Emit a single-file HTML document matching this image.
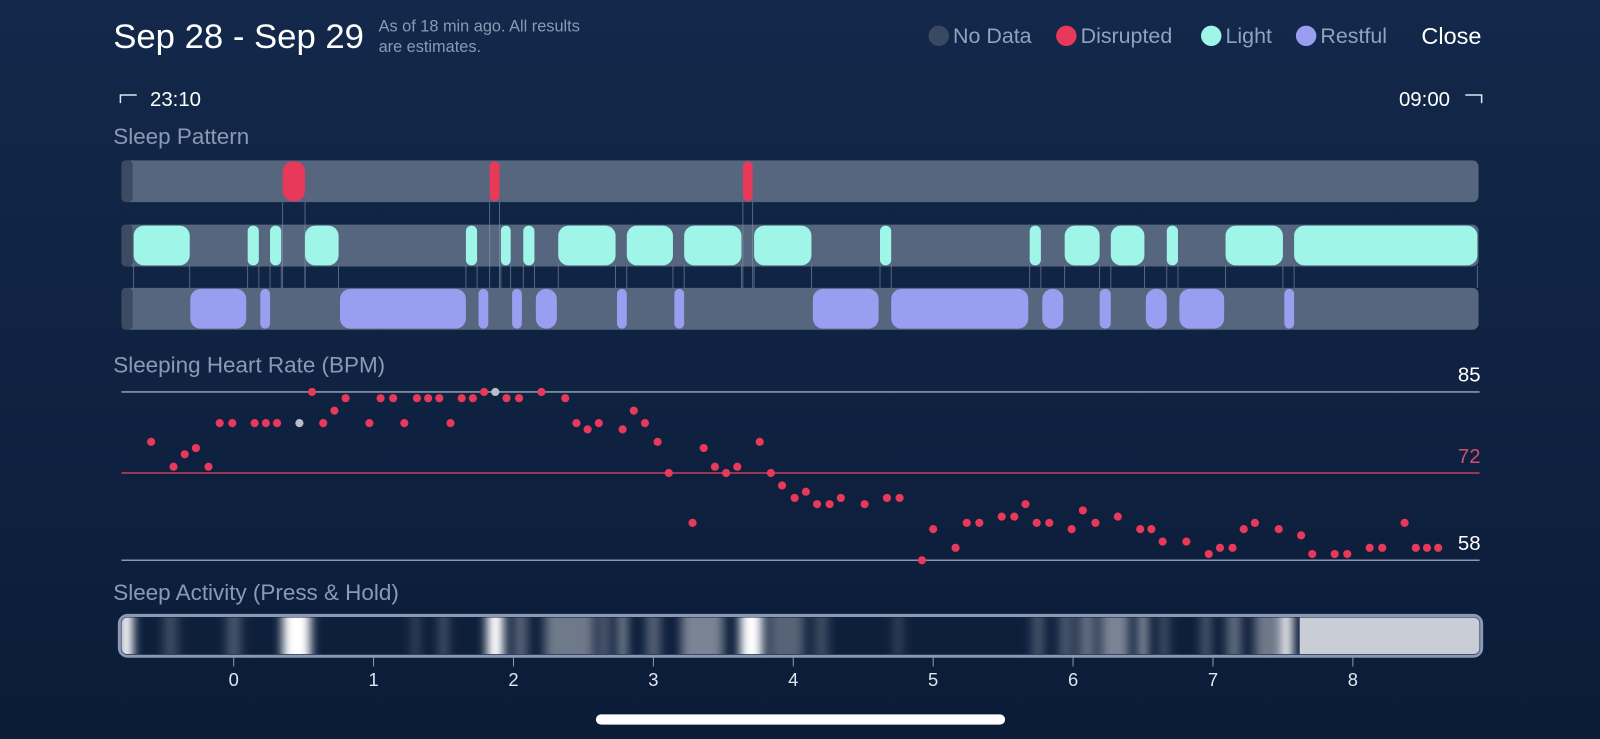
<!DOCTYPE html>
<html><head><meta charset="utf-8"><style>
html,body{margin:0;padding:0;background:#0e2040;}
svg{display:block;font-family:"Liberation Sans",sans-serif;}
</style></head><body>
<svg id="c" width="1600" height="739" viewBox="0 0 1568 724" xmlns="http://www.w3.org/2000/svg">
<defs>
<linearGradient id="bg" x1="0" y1="0" x2="0" y2="1"><stop offset="0" stop-color="#13284a"/><stop offset="1" stop-color="#0b1c38"/></linearGradient>
<filter id="blur" x="-50%" y="0" width="200%" height="100%"><feGaussianBlur stdDeviation="5 0"/></filter>
<clipPath id="actClip"><rect x="119" y="605" width="1331" height="36" rx="6"/></clipPath>
</defs>
<rect width="1568" height="724" fill="url(#bg)"/>
<text x="111" y="47" font-size="34" fill="#fff">Sep 28 - Sep 29</text>
<text x="371" y="31" font-size="16" fill="#8a9ab5">As of 18 min ago. All results</text>
<text x="371" y="51" font-size="16" fill="#8a9ab5">are estimates.</text>
<g font-size="21" fill="#8fa2bf">
<circle cx="920" cy="35" r="10" fill="#3a4962"/><text x="934" y="42">No Data</text>
<circle cx="1045" cy="35" r="10" fill="#e8395a"/><text x="1059" y="42">Disrupted</text>
<circle cx="1187" cy="35" r="10" fill="#9ff5e8"/><text x="1201" y="42">Light</text>
<circle cx="1280" cy="35" r="10" fill="#9a9ef0"/><text x="1294" y="42">Restful</text>
</g>
<text x="1393" y="43" font-size="23" fill="#fff">Close</text>
<path d="M118 101 V93 H134" stroke="#dfe6f0" stroke-width="1.5" fill="none"/>
<text x="147" y="104" font-size="20" fill="#fff">23:10</text>
<path d="M1436 93 H1452 V101" stroke="#dfe6f0" stroke-width="1.5" fill="none"/>
<text x="1421" y="104" font-size="20" fill="#fff" text-anchor="end">09:00</text>
<text x="111" y="141" font-size="22" fill="#8a9ab5">Sleep Pattern</text>
<g id="pattern"></g>
<text x="111" y="365" font-size="22" fill="#8a9ab5">Sleeping Heart Rate (BPM)</text>
<g id="hr"></g>
<text x="111" y="588" font-size="22" fill="#8a9ab5">Sleep Activity (Press &amp; Hold)</text>
<g id="act"></g>
<g id="axis"></g>
<rect x="584" y="700" width="401" height="10" rx="5" fill="#fff"/>
</svg>
<script>
const disruptedStart=[0.35,1.83,3.64];
const disruptedEnd=[0.51,1.90,3.71];
const lightStart=[-0.715,0.10,0.26,0.51,1.66,1.91,2.07,2.32,2.81,3.22,3.72,4.62,5.69,5.94,6.27,6.67,7.09,7.58];
const lightEnd=[-0.314,0.18,0.34,0.75,1.74,1.98,2.15,2.73,3.14,3.63,4.13,4.70,5.77,6.19,6.51,6.75,7.50,8.89];
const restStart=[-0.31,0.19,0.76,1.75,1.99,2.16,2.74,3.15,4.14,4.70,5.78,6.19,6.52,6.76,7.51];
const restEnd=[0.09,0.26,1.66,1.82,2.06,2.31,2.81,3.22,4.61,5.68,5.93,6.27,6.67,7.08,7.58];
const hrHours=[-0.59,-0.43,-0.35,-0.27,-0.18,-0.10,-0.01,0.15,0.23,0.31,0.47,0.56,0.64,0.72,0.80,0.97,1.05,1.14,1.22,1.31,1.39,1.47,1.55,1.63,1.71,1.79,1.87,1.95,2.04,2.20,2.37,2.45,2.53,2.61,2.78,2.86,2.94,3.03,3.11,3.28,3.36,3.44,3.52,3.60,3.76,3.84,3.92,4.01,4.09,4.17,4.26,4.34,4.51,4.67,4.76,4.92,5.00,5.16,5.24,5.33,5.49,5.58,5.66,5.74,5.83,5.99,6.07,6.16,6.32,6.48,6.56,6.64,6.81,6.97,7.05,7.14,7.22,7.30,7.47,7.63,7.71,7.87,7.96,8.12,8.21,8.37,8.45,8.53,8.61];
const hrBpm=[77,73,75,76,73,80,80,80,80,80,80,85,80,82,84,80,84,84,80,84,84,84,80,84,84,85,85,84,84,85,84,80,79,80,79,82,80,77,72,64,76,73,72,73,77,72,70,68,69,67,67,68,67,68,68,58,63,60,64,64,65,65,67,64,64,63,66,64,65,63,63,61,61,59,60,60,63,64,63,62,59,59,59,60,60,64,60,60,60];
const hrNoData=[10,26];
const hrRefLines=[85,72,58];
const actHours=[-0.77,-0.45,0.0,0.45,1.3,1.5,1.87,2.05,2.4,2.65,2.78,3.0,3.35,3.7,3.95,4.2,4.75,5.75,5.95,6.1,6.3,6.5,6.65,6.95,7.15,7.4,7.53];
const actLevel=[1.0,0.2,0.25,1.0,0.2,0.25,1.0,0.3,0.4,0.35,0.5,0.3,0.45,1.0,0.3,0.2,0.2,0.25,0.25,0.35,0.45,0.6,0.25,0.3,0.35,0.4,0.95];
const actWidth=[0.1,0.1,0.1,0.2,0.05,0.06,0.12,0.1,0.35,0.06,0.06,0.1,0.3,0.16,0.25,0.1,0.05,0.08,0.1,0.12,0.2,0.06,0.06,0.06,0.1,0.2,0.08];
const tickLabels=[0,1,2,3,4,5,6,7,8];

const NS='http://www.w3.org/2000/svg';
const X=h=>229+h*137.1;
const Y=b=>384+(85-b)*6.11;
function mk(parent,tag,attrs){const e=document.createElementNS(NS,tag);for(const k in attrs)e.setAttribute(k,attrs[k]);parent.appendChild(e);return e;}
const pat=document.getElementById('pattern');
const rows=[157,220,282];
rows.forEach((y,i)=>{
  const r=mk(pat,'rect',{x:119,y:y,width:1330,height:41,rx:6,fill:'#56667e'});
  
  
  const c=mk(pat,'rect',{x:119,y:y,width:11,height:41,rx:4,fill:'#3c4a62'});
  
  
});
function conn(h,y1,y2){const l=mk(pat,'line',{x1:X(h),x2:X(h),y1:y1,y2:y2,stroke:'#8898b0','stroke-width':0.8,opacity:0.7});
  
  }
disruptedStart.forEach((s,i)=>{conn(s,198,282);conn(disruptedEnd[i],198,282);});
lightStart.forEach((s,i)=>{conn(s,260,282);conn(lightEnd[i],260,282);});
function segs(starts,ends,y,color,name){starts.forEach((s,i)=>{
  const w=X(ends[i])-X(s);
  const r=mk(pat,'rect',{x:X(s),y:y+1,width:w,height:39,rx:Math.min(10,w/2),fill:color});
  
  
});}
segs(disruptedStart,disruptedEnd,157,'#e8395a','disrupted');
segs(lightStart,lightEnd,220,'#9ff5e8','light');
segs(restStart,restEnd,282,'#9a9ef0','restful');

const hr=document.getElementById('hr');
const refColors=['#8a96aa','#c0405e','#8a96aa'];
const labColors=['#fff','#d0506a','#fff'];
hrRefLines.forEach((v,i)=>{
  const l=mk(hr,'line',{x1:119,x2:1450,y1:Y(v),y2:Y(v),stroke:refColors[i],'stroke-width':1.5});
  
  
  const t=mk(hr,'text',{x:1451,y:Y(v)-10,'font-size':20,fill:labColors[i],'text-anchor':'end'});
  t.textContent=v;
  
  
});
hrHours.forEach((h,i)=>{
  const c=mk(hr,'circle',{cx:X(h),cy:Y(hrBpm[i]),r:4,fill:hrNoData.includes(i)?'#b8bec8':'#e8395a'});
  
  
});

const act=document.getElementById('act');
const fr=mk(act,'rect',{x:117,y:603,width:1335,height:40,rx:8,fill:'#0e1f3c',stroke:'#8a9ab5','stroke-width':3});


const g=mk(act,'g',{'clip-path':'url(#actClip)'});
const gb=mk(g,'g',{filter:'url(#blur)'});
actHours.forEach((h,i)=>{
  const w=actWidth[i]*137.1;
  const r=mk(gb,'rect',{x:X(h)-w/2,y:605,width:w,height:36,fill:'#ffffff',opacity:actLevel[i]});
  
  
});
const nd=mk(g,'rect',{x:X(7.62),y:605,width:1450-X(7.62),height:36,fill:'#c9cdd5'});



const ax=document.getElementById('axis');
tickLabels.forEach(v=>{
  const l=mk(ax,'line',{x1:X(v),x2:X(v),y1:644,y2:653,stroke:'#8a9ab5','stroke-width':1});
  
  
  const t=mk(ax,'text',{x:X(v),y:672,'font-size':18,fill:'#dfe6f0','text-anchor':'middle'});
  t.textContent=v;
  
  
});
</script>
</body></html>
